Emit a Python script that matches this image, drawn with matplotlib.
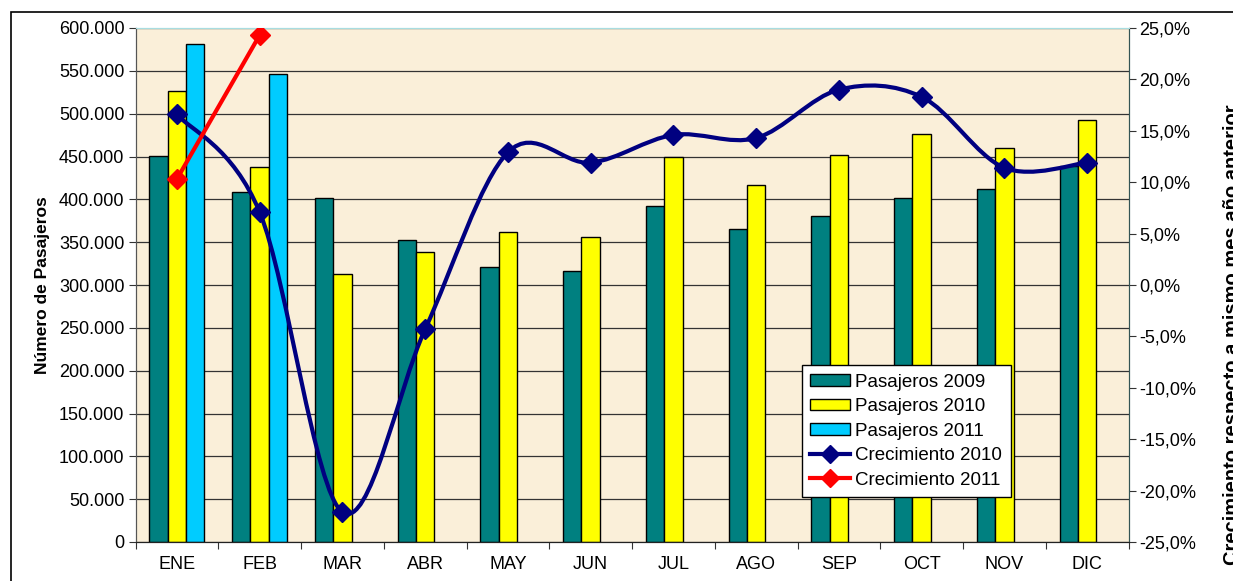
import numpy as np
import matplotlib.pyplot as plt
from matplotlib.path import Path
from matplotlib.patches import PathPatch, Patch, Rectangle
from matplotlib.lines import Line2D
from matplotlib.ticker import FuncFormatter

plt.rcParams['font.family'] = ['Liberation Sans', 'DejaVu Sans']

# datos
meses = ["ENE", "FEB", "MAR", "ABR", "MAY", "JUN", "JUL", "AGO", "SEP", "OCT", "NOV", "DIC"]
pasajeros_2009 = [451000, 409000, 401000, 353000, 321000, 316000, 392000, 365000, 380000, 402000, 412000, 439000]
pasajeros_2010 = [527000, 438000, 313000, 338000, 362000, 356000, 449000, 417000, 452000, 476000, 460000, 493000]
pasajeros_2011 = [581000, 546000]
crecimiento_2010 = [16.6, 7.1, -22.1, -4.3, 12.9, 11.9, 14.6, 14.3, 19.0, 18.3, 11.4, 11.9]
crecimiento_2011 = [10.3, 24.3]

c09 = '#008080'
c10 = '#FFFF00'
c11 = '#00CCFF'
navy = '#000080'
rojo = '#FF0000'

fig = plt.figure(figsize=(12.33, 5.81), dpi=100)
fig.patch.set_facecolor('white')
# borde del area del grafico (recortado a la derecha y abajo)
fig.patches.append(Rectangle((11/1233, -0.1), 1.2, 1.1 - 12/581, transform=fig.transFigure,
                             fill=False, edgecolor='black', lw=1.2))

ax = fig.add_axes([135.5/1233, 39/581, 993/1233, 514/581])
ax.set_facecolor('#FAEFD9')
ax2 = ax.twinx()

x = np.arange(len(meses))
w = 0.222
ax.bar(x - w, pasajeros_2009, w, color=c09, edgecolor='black', lw=1, zorder=2)
ax.bar(x, pasajeros_2010, w, color=c10, edgecolor='black', lw=1, zorder=2)
ax.bar(x[:2] + w, pasajeros_2011, w, color=c11, edgecolor='black', lw=1, zorder=2)

ax.set_xlim(-0.5, 11.5)
ax.set_ylim(0, 600000)
ax.set_yticks(np.arange(0, 600001, 50000))
ax.yaxis.set_major_formatter(FuncFormatter(lambda v, p: f"{int(v):,}".replace(",", ".")))
ax.grid(axis='y', color='#333333', lw=0.9, zorder=1)
ax.set_axisbelow(True)
ax.set_xticks(np.arange(-0.5, 12, 1))
ax.set_xticklabels([])
ax.set_xticks(x, minor=True)
ax.set_xticklabels(meses, minor=True)
ax.tick_params(axis='x', which='minor', length=0, pad=10, labelsize=13)
ax.tick_params(axis='x', which='major', length=5, direction='out', color='#333333')
ax.tick_params(axis='y', length=5, pad=3, labelsize=13, color='#333333')
ax.set_ylabel("Número de Pasajeros", fontsize=12.5, fontweight='bold', labelpad=6)

# linea suavizada estilo Excel (bezier)
def curva(xs, ys):
    pts = np.column_stack([xs, ys]).astype(float)
    verts = [pts[0]]
    codes = [Path.MOVETO]
    n = len(pts)
    for i in range(n - 1):
        p0 = pts[max(i - 1, 0)]
        p1 = pts[i]
        p2 = pts[i + 1]
        p3 = pts[min(i + 2, n - 1)]
        verts += [p1 + (p2 - p0) / 6, p2 - (p3 - p1) / 6, p2]
        codes += [Path.CURVE4] * 3
    return Path(verts, codes)

ax2.add_patch(PathPatch(curva(x, crecimiento_2010), facecolor='none', edgecolor=navy, lw=3, zorder=3))
ax2.plot(x, crecimiento_2010, ls='none', marker='D', ms=10, color=navy, zorder=4)
ax2.plot(x[:2], crecimiento_2011, color=rojo, lw=3, marker='D', ms=10, zorder=4)

ax2.set_ylim(-25, 25)
ax2.set_yticks(np.arange(-25, 26, 5))
ax2.yaxis.set_major_formatter(FuncFormatter(lambda v, p: f"{v:.1f}%".replace(".", ",")))
ax2.tick_params(axis='y', length=5, pad=3, labelsize=13, color='#333333')

for a in (ax, ax2):
    a.spines['top'].set_color('#A8DDE0')
    a.spines['left'].set_color('#555555')
    a.spines['right'].set_color('#335555')
    a.spines['bottom'].set_color('#222222')

fig.text(1223/1233, 1 - 335/581, "Crecimiento respecto a mismo mes año anterior", rotation=90,
         ha='left', va='center', fontsize=14.5, fontweight='bold')

handles = [Patch(facecolor=c09, edgecolor='black', lw=1),
           Patch(facecolor=c10, edgecolor='black', lw=1),
           Patch(facecolor=c11, edgecolor='black', lw=1),
           Line2D([], [], color=navy, lw=3, marker='D', ms=9),
           Line2D([], [], color=rojo, lw=3, marker='D', ms=9)]
labels = ["Pasajeros 2009", "Pasajeros 2010", "Pasajeros 2011", "Crecimiento 2010", "Crecimiento 2011"]
leg = ax2.legend(handles, labels, loc='lower left', bbox_to_anchor=(0.671, 0.0875), fontsize=13.5,
                 frameon=True, fancybox=False, edgecolor='black', framealpha=1, borderaxespad=0,
                 handlelength=2.1, handleheight=0.55, handletextpad=0.3, labelspacing=0.4,
                 borderpad=0.45)
leg.get_frame().set_linewidth(1)
leg.set_zorder(10)

fig.savefig("out.png", dpi=100)
